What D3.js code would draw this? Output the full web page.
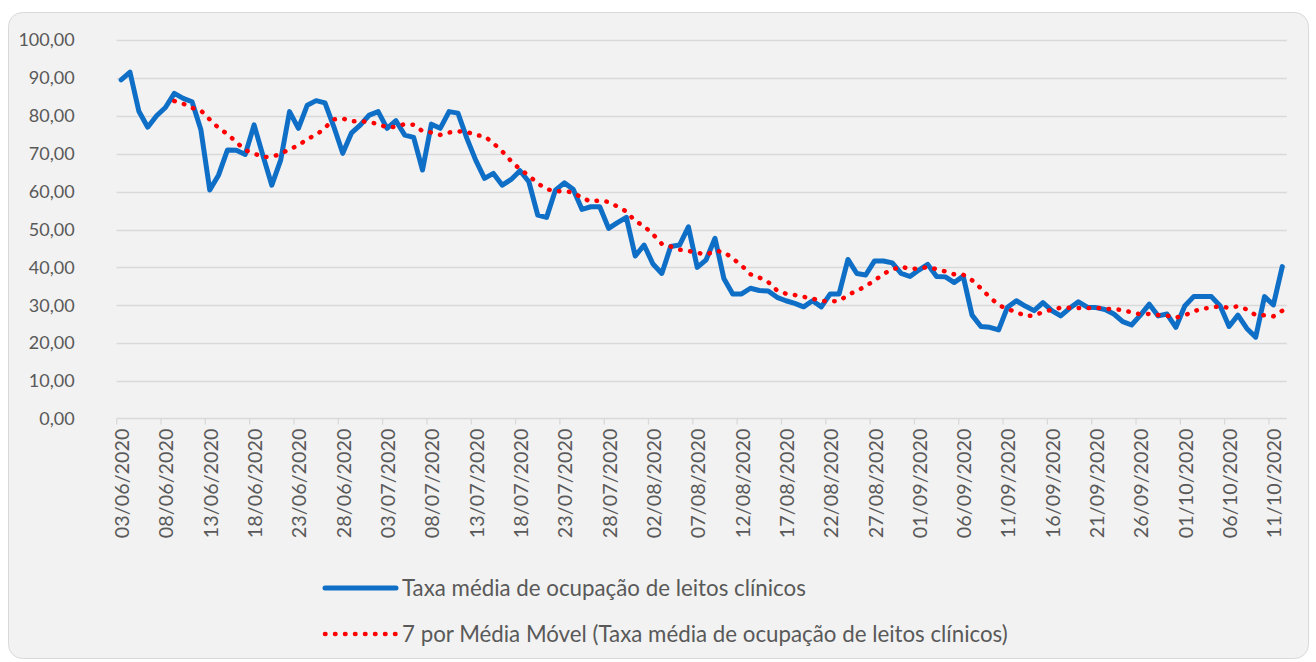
<!DOCTYPE html>
<html><head><meta charset="utf-8">
<script src="https://cdn.jsdelivr.net/npm/d3@7"></script>
<style>body{margin:0;background:#fff;}svg{display:block;}</style>
</head><body>
<svg id="c" width="1316" height="662"></svg>
<script>
// ---- data ----
const startDate = new Date(2020, 5, 3);
const endDate = new Date(2020, 9, 13); // exclusive
const values = [89.5,91.5,81.2,77.0,80.0,82.2,85.9,84.6,83.7,76.3,
60.4,64.4,71.0,70.9,69.8,77.6,69.5,61.7,68.3,81.1,
76.7,82.8,84.0,83.4,77.1,70.1,75.5,77.6,80.2,81.1,
76.7,78.7,74.9,74.3,65.7,77.8,76.7,81.1,80.7,74.1,
68.3,63.5,64.8,61.7,63.2,65.5,62.6,53.8,53.2,60.4,
62.3,60.6,55.3,56.0,56.0,50.3,51.8,53.2,43.0,45.9,
40.9,38.4,45.5,45.9,50.7,40.0,42.0,47.7,37.1,33.0,
33.0,34.5,33.9,33.8,32.1,31.2,30.5,29.6,31.2,29.6,
33.0,33.0,42.1,38.4,38.0,41.7,41.7,41.2,38.4,37.6,
39.3,40.8,37.6,37.5,36.0,37.7,27.4,24.4,24.2,23.5,
29.5,31.2,29.8,28.6,30.7,28.6,27.2,29.2,30.9,29.5,
29.4,28.9,27.7,25.7,24.8,27.4,30.3,27.2,27.7,24.2,
29.8,32.3,32.3,32.3,29.8,24.4,27.4,23.9,21.6,32.3,
30.1,40.2];
const yTicks = [0,10,20,30,40,50,60,70,80,90,100];
const maPeriod = 7;
const seriesName = "Taxa média de ocupação de leitos clínicos";
const trendName = "7 por Média Móvel (Taxa média de ocupação de leitos clínicos)";

(function () {
const dates = d3.timeDay.range(startDate, endDate);
const data = dates.map((d, i) => ({date: d, v: values[i], i}));
const ma = data.map((d, i) => i < maPeriod - 1 ? null :
  {date: d.date, v: d3.mean(values.slice(i - maPeriod + 1, i + 1))}).filter(d => d);

const fmtDate = d3.timeFormat("%d/%m/%Y");
const fmtNum = v => d3.format(".2f")(v).replace(".", ",");

const svg = d3.select("#c");
const font = "Lato, 'Open Sans', sans-serif";
const textColor = "#595959";

svg.append("rect").attr("x", 8.5).attr("y", 12.5).attr("width", 1300).attr("height", 646)
  .attr("rx", 14).attr("fill", "#F2F2F2").attr("stroke", "#D9D9D9").attr("stroke-width", 1);

const pL = 116.7, pR = 1286.7, pT = 40, pB = 419;
const x = d3.scaleBand().domain(dates.map(d => +d)).range([pL, pR]).paddingInner(0).paddingOuter(0);
const y = d3.scaleLinear().domain([0, 100]).range([pB, pT]);
const cx = d => x(+d) + x.bandwidth() / 2;

svg.append("g").selectAll("line").data(yTicks.filter(t => t > 0)).join("line")
  .attr("x1", pL).attr("x2", pR)
  .attr("y1", d => Math.round(y(d)) + 0.5).attr("y2", d => Math.round(y(d)) + 0.5)
  .attr("stroke", "#D9D9D9").attr("stroke-width", 1.3);

const yAxis = d3.axisLeft(y).tickValues(yTicks).tickFormat(fmtNum).tickSize(0).tickPadding(0);
const gy = svg.append("g").attr("transform", `translate(${pL - 42},0)`).call(yAxis);
gy.select(".domain").remove();
gy.selectAll("text").attr("font-family", font).attr("font-size", 18).attr("fill", textColor);

const tickDates = dates.filter((d, i) => i % 5 === 0);
const gx = svg.append("g").attr("transform", `translate(0,${Math.round(pB) - 0.5})`);
gx.append("line").attr("x1", pL).attr("x2", pR).attr("stroke", "#D9D9D9").attr("stroke-width", 1.3);
gx.selectAll("line.tick").data(tickDates).join("line").attr("class", "tick")
  .attr("x1", d => x(+d)).attr("x2", d => x(+d)).attr("y1", 0).attr("y2", 6)
  .attr("stroke", "#D9D9D9").attr("stroke-width", 1.3);
gx.selectAll("text").data(tickDates).join("text")
  .attr("transform", d => `translate(${cx(d) + 8},10) rotate(-90)`)
  .attr("text-anchor", "end")
  .attr("font-family", font).attr("font-size", 19.8).attr("fill", textColor)
  .text(d => fmtDate(d));

const line = d3.line().x(d => cx(d.date)).y(d => y(d.v));
svg.append("path").datum(data).attr("d", line)
  .attr("fill", "none").attr("stroke", "#0F6FC6").attr("stroke-width", 5)
  .attr("stroke-linejoin", "round").attr("stroke-linecap", "round");

svg.append("path").datum(ma).attr("d", line)
  .attr("fill", "none").attr("stroke", "#FF0000").attr("stroke-width", 4.5)
  .attr("stroke-dasharray", "0.5 9.5").attr("stroke-linecap", "round");

const lg = svg.append("g");
lg.append("line").attr("x1", 325).attr("x2", 396).attr("y1", 588).attr("y2", 588)
  .attr("stroke", "#0F6FC6").attr("stroke-width", 5).attr("stroke-linecap", "round");
lg.append("text").attr("x", 402).attr("y", 588).attr("dy", "0.35em")
  .attr("font-family", font).attr("font-size", 22.3).attr("fill", textColor).text(seriesName);
lg.append("line").attr("x1", 325).attr("x2", 396).attr("y1", 634).attr("y2", 634)
  .attr("stroke", "#FF0000").attr("stroke-width", 4.5)
  .attr("stroke-dasharray", "0.5 9.5").attr("stroke-linecap", "round");
lg.append("text").attr("x", 402).attr("y", 634).attr("dy", "0.35em")
  .attr("font-family", font).attr("font-size", 22.3).attr("fill", textColor).text(trendName);
})();
</script>
</body></html>
